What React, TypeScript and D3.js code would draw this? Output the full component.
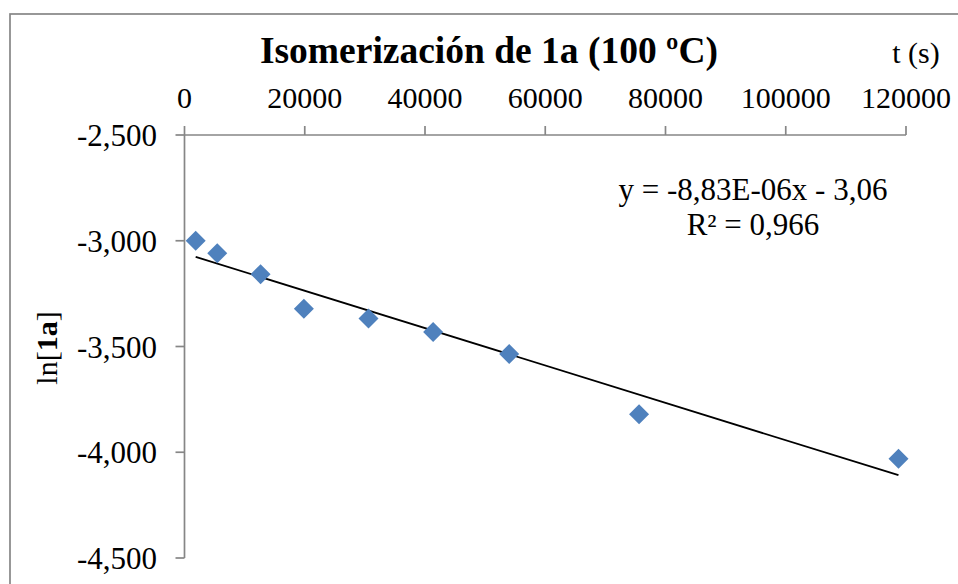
import React from "react";
import * as d3 from "d3";

const timeS = [1860, 5450, 12650, 19850, 30600, 41350, 54000, 75600, 118750];
const ln1a = [-3.0, -3.059, -3.158, -3.322, -3.368, -3.432, -3.536, -3.82, -4.031];
const xTicks = [0, 20000, 40000, 60000, 80000, 100000, 120000];
const yTicks = [-2.5, -3.0, -3.5, -4.0, -4.5];
const fitSlope = -8.83e-6;
const fitIntercept = -3.06;
const titleText = "Isomerización de 1a (100 ºC)";
const xAxisLabel = "t (s)";
const eqLine1 = "y = -8,83E-06x - 3,06";
const eqLine2 = "R² = 0,966";

const W = 958;
const H = 584;
const AXIS = "#868686";
const FONT = "'Liberation Serif', 'Times New Roman', serif";

export default function App() {
  const x = d3.scaleLinear().domain([0, 120000]).range([184.5, 906]);
  const y = d3.scaleLinear().domain([-2.5, -4.5]).range([135, 558]);
  const fmtY = (v: number) => v.toFixed(3).replace(".", ",");
  const xMin = d3.min(timeS) as number;
  const xMax = d3.max(timeS) as number;
  const fitLine = d3
    .line<number>()
    .x((t) => x(t))
    .y((t) => y(fitSlope * t + fitIntercept));
  const diamond = d3.symbol().type(d3.symbolDiamond2).size(255)();

  return (
    <svg
      width={W}
      height={H}
      style={{ position: "fixed", left: 0, top: 0, background: "#fff" }}
      fontFamily={FONT}
    >
      <rect x={0} y={0} width={W} height={H} fill="#fff" />
      <rect x={10} y={14} width={W + 20} height={H + 20} fill="none" stroke={AXIS} strokeWidth={1.7} />

      <text x={489} y={63} textAnchor="middle" fontSize={37.5} fontWeight="bold" fill="#000">
        {titleText}
      </text>
      <text x={916} y={63} textAnchor="middle" fontSize={30} fill="#000">
        {xAxisLabel}
      </text>

      {/* top x axis */}
      <line x1={x(0)} x2={x(120000)} y1={y(-2.5)} y2={y(-2.5)} stroke={AXIS} strokeWidth={1.7} />
      {xTicks.map((t) => (
        <g key={t}>
          <line x1={x(t)} x2={x(t)} y1={y(-2.5) - 9} y2={y(-2.5)} stroke={AXIS} strokeWidth={1.7} />
          <text x={x(t)} y={108} textAnchor="middle" fontSize={30} fill="#000">
            {String(t)}
          </text>
        </g>
      ))}

      {/* y axis */}
      <line x1={x(0)} x2={x(0)} y1={y(-2.5)} y2={y(-4.5)} stroke={AXIS} strokeWidth={1.7} />
      {yTicks.map((v) => (
        <g key={v}>
          <line x1={x(0) - 9} x2={x(0)} y1={y(v)} y2={y(v)} stroke={AXIS} strokeWidth={1.7} />
          <text x={157} y={y(v) + 11} textAnchor="end" fontSize={31} fill="#000">
            {fmtY(v)}
          </text>
        </g>
      ))}

      <text
        transform={`translate(57,348) rotate(-90)`}
        textAnchor="middle"
        fontSize={30}
        fill="#000"
      >
        ln[<tspan fontWeight="bold">1a</tspan>]
      </text>

      {/* trend line */}
      <path d={fitLine([xMin, xMax]) || ""} fill="none" stroke="#000" strokeWidth={1.8} />

      {/* points */}
      {timeS.map((t, i) => (
        <path
          key={i}
          d={diamond || ""}
          transform={`translate(${x(t)},${y(ln1a[i])})`}
          fill="#4F81BD"
        />
      ))}

      <text x={753} y={200} textAnchor="middle" fontSize={31} fill="#000">
        {eqLine1}
      </text>
      <text x={753} y={235} textAnchor="middle" fontSize={31} fill="#000">
        {eqLine2}
      </text>
    </svg>
  );
}
